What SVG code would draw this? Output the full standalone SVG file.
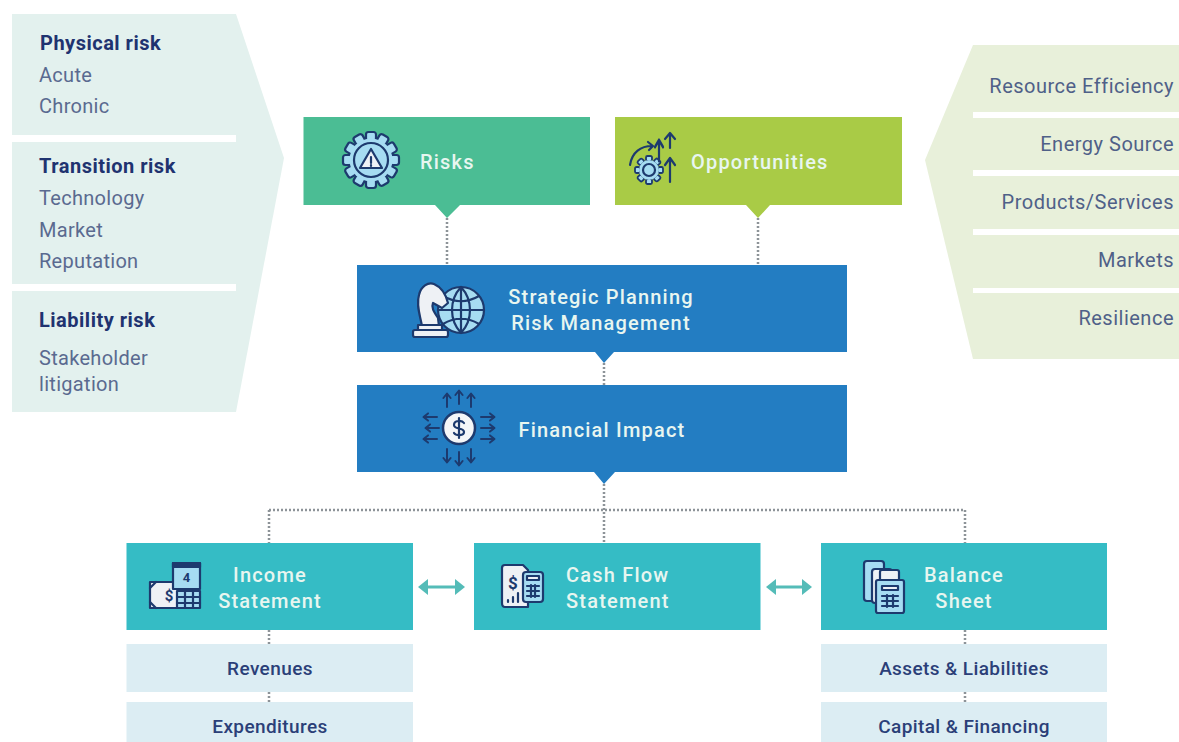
<svg xmlns="http://www.w3.org/2000/svg" xmlns:xlink="http://www.w3.org/1999/xlink" width="1179" height="742" viewBox="0 0 1179 742">
<style>
text{font-family:"Roboto","Liberation Sans",sans-serif}
.h{font-size:20px;font-weight:700;fill:#1f3370;letter-spacing:.5px}
.n{font-size:20px;fill:#5a6a90;letter-spacing:.3px}
.r{font-size:20px;fill:#4f6088;text-anchor:end;letter-spacing:.5px}
.w{font-size:20px;font-weight:500;fill:#e8f6f0;letter-spacing:1.2px}
.c{text-anchor:middle}
.d{font-size:19px;font-weight:500;fill:#2b3f78;text-anchor:middle;letter-spacing:.4px}
.dot{fill:none;stroke:#8d9398;stroke-width:2.5;stroke-dasharray:2 2}
.ar{fill:none;stroke:#54bcb8;stroke-width:3}
.arh{fill:#54bcb8}
.ic{stroke:#1d3a6e;stroke-width:2.2;stroke-linejoin:round;stroke-linecap:round}
.nv{fill:none;stroke:#1d3a6e;stroke-width:2.2;stroke-linecap:round;stroke-linejoin:round}
.lb{fill:#a6dcf2}.wh{fill:#eef1f5}
.sep{fill:#fff}
</style>
<defs>
<g id="tooth"><rect x="-5" y="-28" width="10" height="9" rx="2.500" fill="#a6dcf2" stroke="#1d3a6e" stroke-width="2.200"/></g>
<g id="smalltooth"><rect x="-3" y="-14" width="6" height="5" rx="1.500" fill="#a6dcf2" stroke="#1d3a6e" stroke-width="1.800"/></g>
<g id="up"><path class="nv" d="M0 0V-14M-4 -10L0 -15L4 -10"/></g>
</defs>
<rect width="1179" height="742" fill="#fff"/>

<g id="connectors">
<path class="dot" d="M447 218V265M758 218V265M604 363V385M604 484V543M269 510H965M269 510V543M965 510V543M269 630V644M269 692V702M965 630V644M965 692V702"/>
<path class="ar" d="M424 587H460"/><path class="arh" d="M428 579L418 587L428 595ZM455 579L465 587L455 595Z"/>
<path class="ar" d="M772 587H806"/><path class="arh" d="M776 579L766 587L776 595ZM802 579L812 587L802 595Z"/>
</g>

<g id="physical-panel">
<path d="M12 14H236L284 158L236 412H12Z" fill="#e3f1ee"/>
<rect class="sep" x="12" y="135" width="224" height="7"/>
<rect class="sep" x="12" y="284" width="224" height="7"/>
<text class="h" x="40" y="50">Physical risk</text>
<text class="n" x="39" y="82">Acute</text>
<text class="n" x="39" y="113">Chronic</text>
<text class="h" x="39" y="173">Transition risk</text>
<text class="n" x="39" y="205">Technology</text>
<text class="n" x="39" y="237">Market</text>
<text class="n" x="39" y="268">Reputation</text>
<text class="h" x="39" y="327">Liability risk</text>
<text class="n" x="39" y="365">Stakeholder</text>
<text class="n" x="39" y="391">litigation</text>
</g>

<g id="opportunity-panel">
<path d="M973 45H1179V359H973L925 160Z" fill="#e8f0da"/>
<rect class="sep" x="973" y="112" width="206" height="6"/>
<rect class="sep" x="973" y="170" width="206" height="6"/>
<rect class="sep" x="973" y="229" width="206" height="6"/>
<rect class="sep" x="973" y="288" width="206" height="5"/>
<text class="r" x="1174" y="93">Resource Efficiency</text>
<text class="r" x="1174" y="151">Energy Source</text>
<text class="r" x="1174" y="209">Products/Services</text>
<text class="r" x="1174" y="267">Markets</text>
<text class="r" x="1174" y="325">Resilience</text>
</g>

<g id="risks">
<path d="M303.500 117H590V205H460L447 218L435 205H303.500Z" fill="#4bbd94"/>
<g transform="translate(371 160)">
<use xlink:href="#tooth"/><use xlink:href="#tooth" transform="rotate(30)"/><use xlink:href="#tooth" transform="rotate(60)"/><use xlink:href="#tooth" transform="rotate(90)"/><use xlink:href="#tooth" transform="rotate(120)"/><use xlink:href="#tooth" transform="rotate(150)"/><use xlink:href="#tooth" transform="rotate(180)"/><use xlink:href="#tooth" transform="rotate(210)"/><use xlink:href="#tooth" transform="rotate(240)"/><use xlink:href="#tooth" transform="rotate(270)"/><use xlink:href="#tooth" transform="rotate(300)"/><use xlink:href="#tooth" transform="rotate(330)"/>
<circle r="21.500" class="lb"/>
<circle r="17" class="lb ic"/>
<path d="M0 -11L11 8H-11Z" class="wh ic"/>
<path d="M0 -3V3M0 5V6" class="nv"/>
</g>
<text class="w" x="420" y="169">Risks</text>
</g>

<g id="opportunities">
<path d="M615 117H902V205H770L758 218L746 205H615Z" fill="#a9cb46"/>
<g transform="translate(649 170)">
<path class="nv" d="M-19 -5C-17 -18 -8 -24 3 -24M-1 -28L4 -24L0 -20"/>
<use xlink:href="#smalltooth"/><use xlink:href="#smalltooth" transform="rotate(45)"/><use xlink:href="#smalltooth" transform="rotate(90)"/><use xlink:href="#smalltooth" transform="rotate(135)"/><use xlink:href="#smalltooth" transform="rotate(180)"/><use xlink:href="#smalltooth" transform="rotate(225)"/><use xlink:href="#smalltooth" transform="rotate(270)"/><use xlink:href="#smalltooth" transform="rotate(315)"/>
<circle r="10" class="lb"/>
<circle r="6" class="lb ic"/>
<use xlink:href="#up" transform="translate(10 -9) scale(1 1.400)"/>
<path class="nv" d="M21 12V-10M16 -5L21 -12L26 -5"/>
<path class="nv" d="M21 -22V-37M16 -31L21 -37L26 -31"/>
</g>
<text class="w" x="691" y="169">Opportunities</text>
</g>

<g id="strategic">
<path d="M357 265H847V352H614L604 363L595 352H357Z" fill="#237dc2"/>
<g>
<circle cx="461" cy="310" r="23" class="lb ic"/>
<path class="nv" d="M461 287V333M438 310H484M443 296C455 303 467 303 479 296M443 324C455 317 467 317 479 324M461 287C449 300 449 320 461 333M461 287C473 300 473 320 461 333"/>
<path class="wh ic" d="M422 326C420 315 416 305 419 295C421 286 428 282 434 284C441 287 446 295 448 303L442 308L433 303C431 308 434 312 438 318L439 326Z"/>
<rect x="418" y="325" width="24" height="5" class="wh ic"/>
<rect x="413" y="330" width="35" height="7" rx="2" class="wh ic"/>
</g>
<text class="w c" x="601" y="304">Strategic Planning</text>
<text class="w c" x="601" y="330">Risk Management</text>
</g>

<g id="financial">
<path d="M357 385H847V472H615L604 484L594 472H357Z" fill="#237dc2"/>
<g transform="translate(459 428)">
<circle r="16" fill="#f4f6f8" stroke="#1d3a6e" stroke-width="2.500"/>
<path class="nv" d="M5 -5C3 -8 -5 -8 -5 -3C-5 2 5 -1 5 4C5 8 -3 8 -5 5M0 -10V10"/>
<use xlink:href="#up" transform="translate(-12 -21) scale(.9)"/><use xlink:href="#up" transform="translate(0 -24) scale(.9)"/><use xlink:href="#up" transform="translate(12 -21) scale(.9)"/>
<use xlink:href="#up" transform="translate(-12 21) rotate(180) scale(.9)"/><use xlink:href="#up" transform="translate(0 24) rotate(180) scale(.9)"/><use xlink:href="#up" transform="translate(12 21) rotate(180) scale(.9)"/>
<use xlink:href="#up" transform="translate(-22 -11) rotate(-90) scale(.9)"/><use xlink:href="#up" transform="translate(-20 0) rotate(-90) scale(.9)"/><use xlink:href="#up" transform="translate(-22 11) rotate(-90) scale(.9)"/>
<use xlink:href="#up" transform="translate(22 -11) rotate(90) scale(.9)"/><use xlink:href="#up" transform="translate(22 0) rotate(90) scale(.9)"/><use xlink:href="#up" transform="translate(22 11) rotate(90) scale(.9)"/>
</g>
<text class="w c" x="602" y="437">Financial Impact</text>
</g>

<g id="income">
<rect x="126.500" y="543" width="286.500" height="87" fill="#35bcc5"/>
<g transform="translate(147 560)">
<path class="wh ic" d="M3 22H50V48H3Z"/>
<path class="nv" d="M3 28L9 22M3 42L9 48"/>
<rect x="26" y="3" width="27" height="26" class="lb ic"/>
<path class="ic" fill="#1d3a6e" d="M26 3H53V7H26Z"/>
<text x="39.500" y="22" font-size="13" font-weight="700" fill="#1d3a6e" text-anchor="middle">4</text>
<text x="22" y="41" font-size="15" font-weight="700" fill="#1d3a6e" text-anchor="middle">$</text>
<rect x="30" y="31" width="23" height="17" class="lb ic"/>
<path class="nv" d="M30 37H53M30 43H53M38 31V48M46 31V48"/>
</g>
<text class="w c" x="270" y="582">Income</text>
<text class="w c" x="270" y="608">Statement</text>
</g>

<g id="cash-flow">
<rect x="474" y="543" width="286.500" height="87" fill="#35bcc5"/>
<g transform="translate(501 565)">
<path class="wh ic" d="M4 0H22L27 5V42H4C1 42 1 40 1 38V3C1 1 2 0 4 0Z"/>
<text x="12" y="24" font-size="17" font-weight="700" fill="#1d3a6e" text-anchor="middle">$</text>
<path class="nv" d="M7 37V35M12 37V32M17 37V28"/>
<rect x="22" y="7" width="20" height="30" rx="3" class="lb ic"/>
<rect x="26" y="11" width="12" height="4" class="wh ic"/>
<path class="nv" d="M26 21H38M26 26H38M26 31H38M30 20V32M34 20V32"/>
</g>
<text class="w" x="566" y="582">Cash Flow</text>
<text class="w" x="566" y="608">Statement</text>
</g>

<g id="balance">
<rect x="821" y="543" width="286" height="87" fill="#35bcc5"/>
<g transform="translate(863 560)">
<rect x="1" y="1" width="20" height="40" rx="3" class="lb ic"/>
<rect x="9" y="9" width="20" height="34" rx="3" class="wh ic"/>
<rect x="17" y="10" width="19" height="20" rx="2" class="wh ic"/>
<rect x="13" y="20" width="28" height="33" rx="2" class="lb ic"/>
<rect x="19" y="26" width="16" height="4" class="wh ic"/>
<path class="nv" d="M19 36H35M19 41H35M19 46H35M24 35V47M30 35V47"/>
</g>
<text class="w c" x="964" y="582">Balance</text>
<text class="w c" x="964" y="608">Sheet</text>
</g>

<g id="revenues"><rect x="126.500" y="644" width="286.500" height="48" fill="#dcedf3"/><text class="d" x="270" y="675">Revenues</text></g>
<g id="expenditures"><rect x="126.500" y="702" width="286.500" height="40" fill="#dcedf3"/><text class="d" x="270" y="733">Expenditures</text></g>
<g id="assets"><rect x="821" y="644" width="286" height="48" fill="#dcedf3"/><text class="d" x="964" y="675">Assets &amp; Liabilities</text></g>
<g id="capital"><rect x="821" y="702" width="286" height="40" fill="#dcedf3"/><text class="d" x="964" y="733">Capital &amp; Financing</text></g>
</svg>
